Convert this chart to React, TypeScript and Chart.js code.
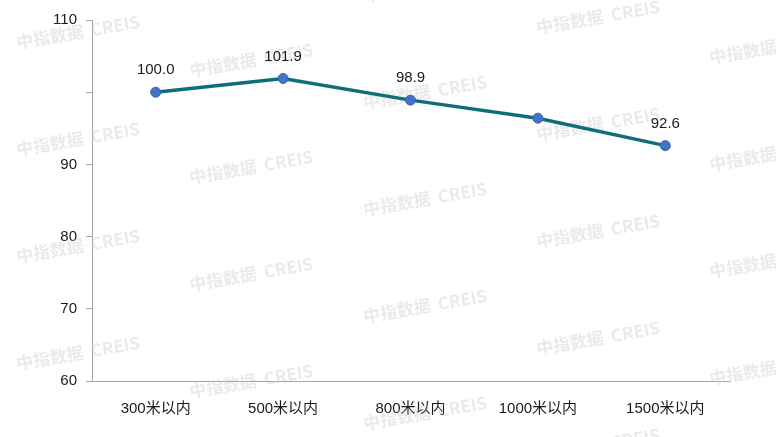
import React, { useEffect, useRef } from "react";
import { Chart, registerables } from "chart.js";

Chart.register(...registerables);

const categories = ["300米以内", "500米以内", "800米以内", "1000米以内", "1500米以内"];
const values = [100.0, 101.9, 98.9, 96.4, 92.6];
const labelShown = [true, true, true, false, true];
const yTicks = [60, 70, 80, 90, 100, 110];
const hiddenTickLabels = [100];
const watermarkText = "中指数据  CREIS";

const FONT = "'Liberation Sans', Arial, 'Noto Sans CJK SC', sans-serif";

const watermarkPlugin = {
  id: "watermark",
  beforeDatasetsDraw(chart: any) {
    const ctx = chart.ctx;
    ctx.save();
    ctx.font = `bold 17px 'Noto Sans CJK SC', 'Liberation Sans', sans-serif`;
    ctx.fillStyle = "rgba(190,190,190,0.32)";
    ctx.textAlign = "center";
    ctx.textBaseline = "middle";
    const cols = [78, 251, 425, 598, 771];
    const starts = [32, 60, 92, 17, 47];
    for (let c = 0; c < cols.length; c++) {
      for (let r = -1; r < 5; r++) {
        const y = starts[c] + r * 107;
        if (y < -20 || y > 460) continue;
        ctx.save();
        ctx.translate(cols[c], y);
        ctx.rotate(-0.17);
        ctx.fillText(watermarkText, 0, 0);
        ctx.restore();
      }
    }
    ctx.restore();
  },
};

const labelPlugin = {
  id: "pointLabels",
  afterDatasetsDraw(chart: any) {
    const ctx = chart.ctx;
    const meta = chart.getDatasetMeta(0);
    ctx.save();
    ctx.font = `15px ${FONT}`;
    ctx.fillStyle = "#1a1a1a";
    ctx.textAlign = "center";
    ctx.textBaseline = "middle";
    meta.data.forEach((pt: any, i: number) => {
      if (!labelShown[i]) return;
      ctx.fillText(values[i].toFixed(1), pt.x, pt.y - 22);
    });
    ctx.restore();
  },
};

export default function App() {
  const ref = useRef<HTMLCanvasElement>(null);
  useEffect(() => {
    if (!ref.current) return;
    const chart = new Chart(ref.current, {
      type: "line",
      data: {
        labels: categories,
        datasets: [
          {
            data: values,
            borderColor: "#0f6f78",
            borderWidth: 3.5,
            pointBackgroundColor: "#4472c4",
            pointBorderColor: "#3a64b0",
            pointBorderWidth: 1,
            pointRadius: 5,
            tension: 0,
          },
        ],
      },
      options: {
        animation: false,
        responsive: true,
        maintainAspectRatio: false,
        layout: { padding: { left: 0, top: 20, right: 51, bottom: 0 } },
        plugins: { legend: { display: false }, tooltip: { enabled: false } },
        scales: {
          x: {
            offset: true,
            grid: { display: false, offset: true },
            border: { display: true, color: "#a6a6a6", width: 1 },
            ticks: { color: "#1a1a1a", font: { family: FONT, size: 15 }, padding: 11, maxRotation: 0 },
            afterFit: (s: any) => { s.height = 56; },
          },
          y: {
            min: 60,
            max: 110,
            afterBuildTicks: (s: any) => { s.ticks = yTicks.map((v) => ({ value: v })); },
            grid: { drawOnChartArea: false, drawTicks: true, tickLength: 6, color: "#a6a6a6" },
            border: { display: true, color: "#a6a6a6", width: 1 },
            ticks: {
              color: "#1a1a1a",
              font: { family: FONT, size: 15 },
              padding: 9,
              callback: (v: any) => (hiddenTickLabels.includes(Number(v)) ? "" : String(v)),
            },
            afterFit: (s: any) => { s.width = 92; },
          },
        },
      },
      plugins: [watermarkPlugin, labelPlugin],
    });
    return () => chart.destroy();
  }, []);
  return (
    <div style={{ position: "fixed", left: 0, top: 0, width: 780, height: 437, background: "#fff" }}>
      <canvas ref={ref} />
    </div>
  );
}
